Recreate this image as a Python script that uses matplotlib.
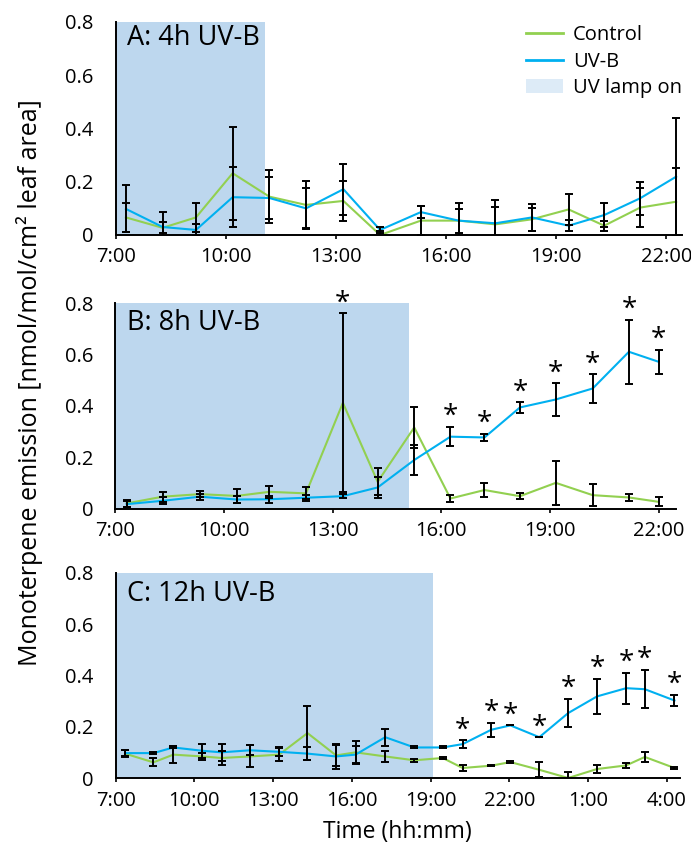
"""Monoterpene emission under UV-B exposure of 4, 8 and 12 h (three panels)."""

import matplotlib.pyplot as plt
from matplotlib.lines import Line2D
from matplotlib.patches import Patch

plt.rcParams["font.family"] = ["Open Sans", "DejaVu Sans"]

GREEN = "#92D050"
BLUE = "#00B0F0"
SHADE = "#BDD7EE"
SHADE_LEGEND = "#DDEBF7"

# Panel A: 4h UV-B (time in decimal hours)
a_time = [7.27, 8.27, 9.18, 10.18, 11.18, 12.18, 13.20, 14.20,
          15.31, 16.34, 17.34, 18.34, 19.34, 20.31, 21.29, 22.27]
a_ctrl = [0.066, 0.027, 0.066, 0.232, 0.144, 0.113, 0.128, 0.000,
          0.054, 0.054, 0.040, 0.059, 0.096, 0.035, 0.103, 0.125]
a_ctrl_err = [0.053, 0.020, 0.053, 0.175, 0.100, 0.090, 0.075, 0.016,
              0.054, 0.067, 0.090, 0.044, 0.057, 0.019, 0.072, 0.128]
a_uvb = [0.098, 0.030, 0.019, 0.142, 0.139, 0.100, 0.172, 0.019,
         0.086, 0.054, 0.044, 0.066, 0.035, 0.075, 0.138, 0.219]
a_uvb_err = [0.088, 0.058, 0.022, 0.113, 0.080, 0.075, 0.096, 0.010,
             0.023, 0.045, 0.060, 0.050, 0.020, 0.045, 0.062, 0.221]
a_sig = []

# Panel B: 8h UV-B
b_time = [7.31, 8.30, 9.33, 10.35, 11.25, 12.26, 13.28, 14.24,
          15.25, 16.25, 17.19, 18.17, 19.16, 20.18, 21.18, 22.00]
b_ctrl = [0.020, 0.046, 0.056, 0.049, 0.065, 0.059, 0.412, 0.104,
          0.316, 0.039, 0.072, 0.048, 0.100, 0.052, 0.043, 0.026]
b_ctrl_err = [0.015, 0.019, 0.013, 0.026, 0.023, 0.023, 0.349, 0.052,
              0.081, 0.013, 0.029, 0.012, 0.086, 0.043, 0.014, 0.018]
b_uvb = [0.017, 0.030, 0.046, 0.035, 0.036, 0.042, 0.048, 0.082,
         0.189, 0.280, 0.277, 0.394, 0.425, 0.468, 0.611, 0.572]
b_uvb_err = [0.012, 0.013, 0.012, 0.012, 0.014, 0.012, 0.008, 0.040,
             0.059, 0.038, 0.014, 0.021, 0.064, 0.056, 0.124, 0.047]
b_sig = [6, 9, 10, 11, 12, 13, 14, 15]

# Panel C: 12h UV-B (hours past midnight continue above 24)
c_time = [7.36, 8.44, 9.20, 10.31, 11.04, 12.12, 13.23, 14.31, 15.40, 16.14, 17.27,
          18.38, 19.46, 20.22, 21.31, 22.04, 23.14, 24.24, 25.34, 26.45, 27.16, 28.29]
c_ctrl = [0.095, 0.061, 0.091, 0.084, 0.078, 0.084, 0.091, 0.175, 0.088, 0.100, 0.084,
          0.069, 0.078, 0.039, 0.048, 0.062, 0.032, 0.000, 0.035, 0.049, 0.082, 0.039]
c_ctrl_err = [0.013, 0.016, 0.033, 0.013, 0.029, 0.043, 0.026, 0.106, 0.040, 0.043, 0.023,
              0.006, 0.004, 0.011, 0.003, 0.003, 0.029, 0.022, 0.017, 0.011, 0.020, 0.003]
c_uvb = [0.097, 0.097, 0.119, 0.106, 0.100, 0.108, 0.102, 0.095, 0.084, 0.091, 0.159,
         0.119, 0.119, 0.132, 0.188, 0.205, 0.159, 0.253, 0.318, 0.350, 0.346, 0.302]
c_uvb_err = [0.011, 0.005, 0.004, 0.028, 0.034, 0.019, 0.017, 0.024, 0.049, 0.035, 0.033,
             0.004, 0.004, 0.015, 0.028, 0.000, 0.000, 0.055, 0.068, 0.061, 0.075, 0.022]
c_sig = [13, 14, 15, 16, 17, 18, 19, 20, 21]

panels = [
    # label, lamp_end, xmax, tick hours, data, rect in pixels (left, top, right, bottom)
    ("A: 4h UV-B", 11.05, 22.43, range(7, 23, 3),
     (a_time, a_ctrl, a_ctrl_err, a_uvb, a_uvb_err, a_sig), (116, 22, 682, 235), 0.925),
    ("B: 8h UV-B", 15.10, 22.48, range(7, 23, 3),
     (b_time, b_ctrl, b_ctrl_err, b_uvb, b_uvb_err, b_sig), (115.5, 303.3, 676, 508.5), 0.902),
    ("C: 12h UV-B", 19.10, 28.50, range(7, 29, 3),
     (c_time, c_ctrl, c_ctrl_err, c_uvb, c_uvb_err, c_sig), (115.6, 572.7, 680, 778), 0.895),
]

W, H = 691, 843
fig = plt.figure(figsize=(W / 100, H / 100), dpi=100)

axes = []
for label, lamp_end, xmax, ticks, data, (l, t, r, b), label_y in panels:
    ax = fig.add_axes([l / W, 1 - b / H, (r - l) / W, (b - t) / H])
    time, ctrl, ctrl_err, uvb, uvb_err, sig = data

    ax.axvspan(7, lamp_end, color=SHADE, lw=0, zorder=0)
    ax.plot(time, ctrl, color=GREEN, lw=1.5, zorder=2)
    ax.plot(time, uvb, color=BLUE, lw=1.5, zorder=2)
    err_kw = dict(fmt="none", ecolor="black", elinewidth=1.4, capsize=2.8, capthick=1.4, zorder=3)
    ax.errorbar(time, ctrl, yerr=ctrl_err, **err_kw)
    ax.errorbar(time, uvb, yerr=uvb_err, **err_kw)

    for i in sig:
        top = max(ctrl[i] + ctrl_err[i], uvb[i] + uvb_err[i])
        ax.annotate("*", (time[i], top), xytext=(0, 7), textcoords="offset points",
                    ha="center", va="center", fontsize=20, annotation_clip=False)

    ax.text(0.02, label_y, label, transform=ax.transAxes, fontsize=19.5, va="center", ha="left")

    ax.set_xlim(7, xmax)
    ax.set_ylim(0, 0.8)
    ax.set_xticks(list(ticks))
    ax.set_xticklabels([f"{h % 24}:00" for h in ticks])
    ax.set_yticks([0, 0.2, 0.4, 0.6, 0.8])
    ax.set_yticklabels(["0", "0.2", "0.4", "0.6", "0.8"])
    ax.tick_params(axis="x", direction="out", length=3, width=1.2, pad=6, labelsize=14.5)
    ax.tick_params(axis="y", length=0, pad=16, labelsize=14.5)
    for side in ("top", "right"):
        ax.spines[side].set_visible(False)
    for side in ("left", "bottom"):
        ax.spines[side].set_linewidth(1.4)
    axes.append(ax)

handles = [
    Line2D([], [], color=GREEN, lw=2),
    Line2D([], [], color=BLUE, lw=2),
    Patch(facecolor=SHADE_LEGEND, edgecolor="none"),
]
axes[0].legend(handles, ["Control", "UV-B", "UV lamp on"], loc="upper right",
               bbox_to_anchor=(1.0, 0.985), frameon=False, fontsize=14.5,
               handlelength=1.85, handletextpad=0.5, labelspacing=0.33,
               borderpad=0, borderaxespad=0)

axes[2].set_xlabel("Time (hh:mm)", fontsize=16.5, labelpad=7)

fig.text(30 / W, 1 - 383 / H, "Monoterpene emission [nmol/mol/cm\u00b2 leaf area]",
         rotation=90, ha="center", va="center", fontsize=18)

fig.savefig("out.png", dpi=100)
